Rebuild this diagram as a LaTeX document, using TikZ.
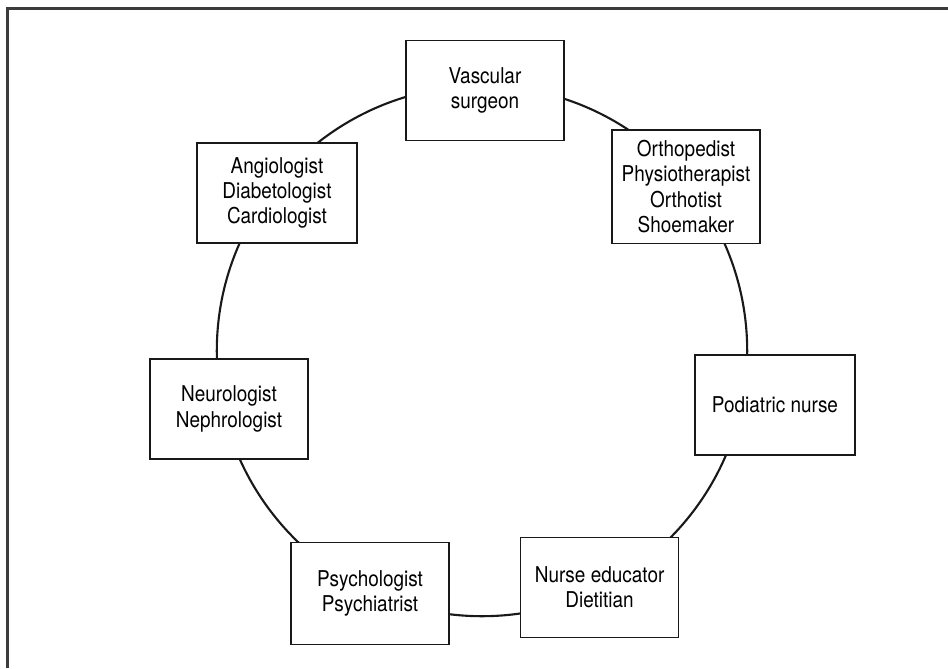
\documentclass[tikz,border=0pt]{standalone}
\usepackage{fontspec}
\setmainfont{TeX Gyre Heros}[FakeStretch=0.87]
\usetikzlibrary{positioning}
\definecolor{FrameGray}{RGB}{60,60,60}
\definecolor{InkBlack}{RGB}{25,25,25}

\begin{document}
\begin{tikzpicture}[member/.style={draw=InkBlack,line width=0.9pt,fill=white,align=center,
    inner sep=0pt,minimum width=3.95cm,minimum height=2.5cm,font=\fontsize{15.5}{17.9}\selectfont}]
\useasboundingbox (-12.05,-7.925) rectangle (11.65,8.775);
\draw[FrameGray,line width=1.6pt] (-11.86,-7.925)--(-11.86,8.5625)--(11.65,8.5625);
\coordinate (hub) at (0,0);
\draw[InkBlack,line width=1.5pt] (hub) circle (6.63);
\node[member] (vasc) at (0.075,6.51){Vascular\\surgeon};
\node[member,minimum width=3.7cm,minimum height=2.83cm] (ortho) at (5.1,4.11){Orthopedist\\Physiotherapist\\Orthotist\\Shoemaker};
\node[member,minimum width=4cm] (podia) at (7.325,-1.35){Podiatric nurse};
\node[member] (nurse) at (2.94,-5.91){Nurse educator\\Dietitian};
\node[member,minimum height=2.55cm] (psych) at (-2.8,-6.07){Psychologist\\Psychiatrist};
\node[member] (neuro) at (-6.325,-1.45){Neurologist\\Nephrologist};
\node[member,minimum width=4cm] (angio) at (-5.125,3.95){Angiologist\\Diabetologist\\Cardiologist};
\end{tikzpicture}
\end{document}
